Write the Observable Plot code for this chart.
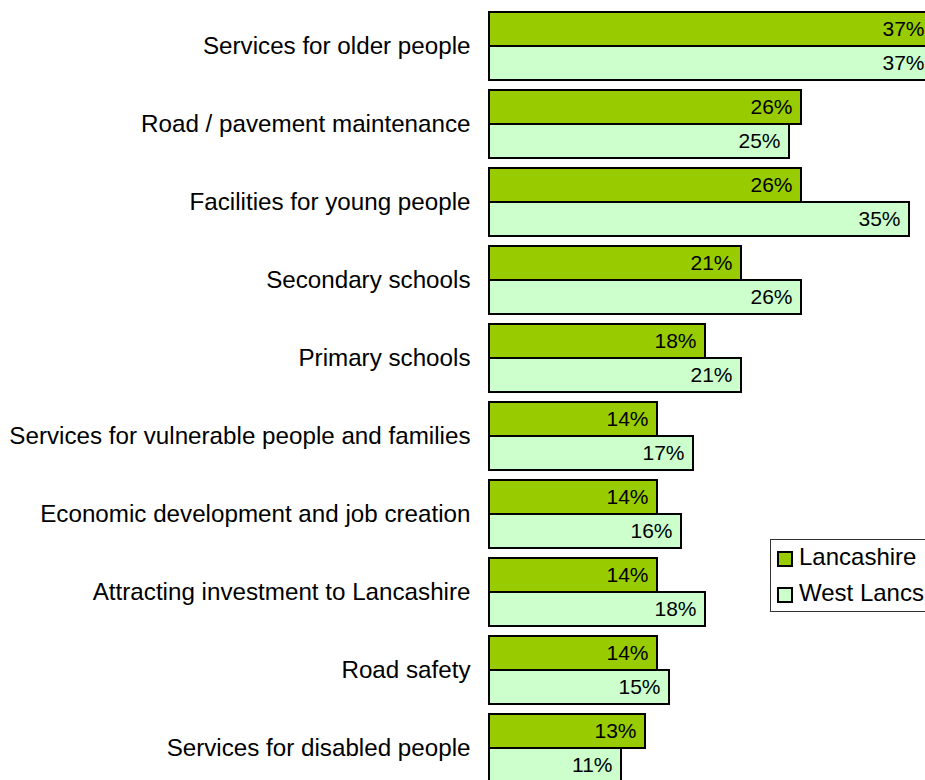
<!DOCTYPE html>
<html>
<head>
<meta charset="utf-8">
<script src="https://cdn.jsdelivr.net/npm/d3@7"></script>
<script src="https://cdn.jsdelivr.net/npm/@observablehq/plot@0.6"></script>
<style>
  html, body { margin: 0; padding: 0; background: #fff; overflow: hidden; width: 925px; height: 780px; }
  #wrap { position: relative; width: 925px; height: 780px; overflow: hidden; font-family: "Liberation Sans", Arial, sans-serif; }
  #legend { position: absolute; left: 770px; top: 539px; width: 200px; height: 71px; border: 1px solid #333; background: #fff; }
  .sw { position: absolute; left: 6px; width: 16px; height: 16px; box-sizing: border-box; border: 2px solid #000; }
  .lt { position: absolute; left: 28px; font-size: 24px; line-height: 24px; color: #000; white-space: nowrap; }
</style>
</head>
<body>
<div id="wrap">
  <div id="chart"></div>
  <div id="legend"></div>
</div>
<script>
const categories = [
  "Services for older people",
  "Road / pavement maintenance",
  "Facilities for young people",
  "Secondary schools",
  "Primary schools",
  "Services for vulnerable people and families",
  "Economic development and job creation",
  "Attracting investment to Lancashire",
  "Road safety",
  "Services for disabled people"
];
const series = ["Lancashire", "West Lancs"];
const lancashire = [37, 26, 26, 21, 18, 14, 14, 14, 14, 13];
const westLancs  = [37, 25, 35, 26, 21, 17, 16, 18, 15, 11];
const colors = ["#99cc00", "#ccffcc"];

const data = [];
categories.forEach((c, i) => {
  data.push({category: c, series: series[0], value: lancashire[i]});
  data.push({category: c, series: series[1], value: westLancs[i]});
});

const chart = Plot.plot({
  width: 925,
  height: 788,
  marginTop: 6,
  marginBottom: 0,
  marginLeft: 489,
  marginRight: 0,
  style: {fontFamily: "'Liberation Sans', Arial, sans-serif", background: "#fff", overflow: "hidden", color: "#000"},
  x: {domain: [0, 37], range: [489, 933], axis: null},
  y: {domain: series, padding: 0, axis: null},
  fy: {domain: categories, paddingInner: 10 / 78, paddingOuter: 5 / 78, label: null},
  color: {domain: series, range: colors},
  marks: [
    Plot.barX(data, {fy: "category", y: "series", x: "value", fill: "series", stroke: "#000", strokeWidth: 2}),
    Plot.text(data, {fy: "category", y: "series", x: "value", text: d => d.value + "%", textAnchor: "end", dx: -9, fontSize: 21, fill: "#000"}),
    Plot.axisFy({anchor: "left", tickSize: 0, tickPadding: 19, fontSize: 24.2, label: null, fill: "#000"})
  ]
});
document.getElementById("chart").appendChild(chart);

const legend = document.getElementById("legend");
series.forEach((s, i) => {
  const sw = document.createElement("div");
  sw.className = "sw";
  sw.style.top = (11 + i * 36) + "px";
  sw.style.background = colors[i];
  legend.appendChild(sw);
  const t = document.createElement("div");
  t.className = "lt";
  t.style.top = (5 + i * 36) + "px";
  t.textContent = s;
  legend.appendChild(t);
});
</script>
</body>
</html>
